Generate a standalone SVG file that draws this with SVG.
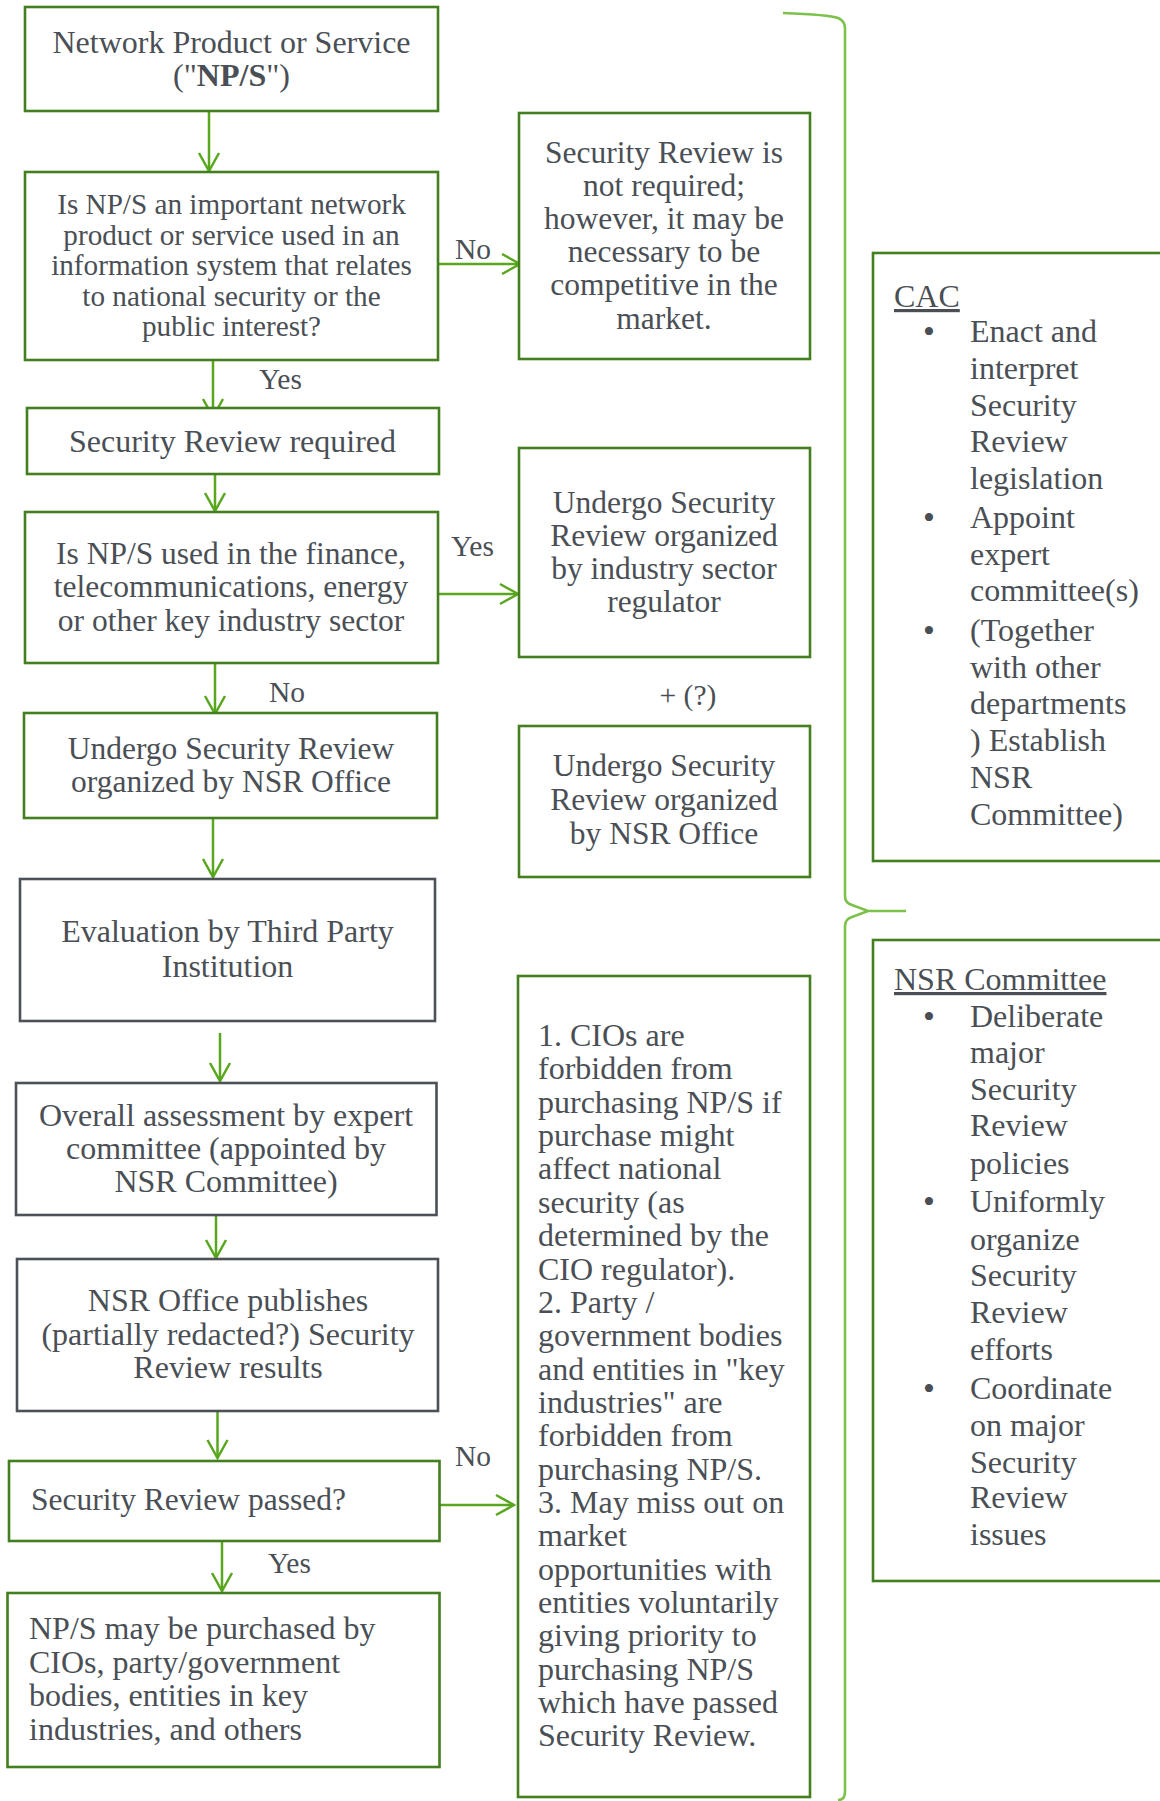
<svg xmlns="http://www.w3.org/2000/svg" width="1160" height="1801" viewBox="0 0 1160 1801">
<style>
.g{fill:#fff;stroke:#437e1f;stroke-width:2.6}
.k{fill:#fff;stroke:#4b5157;stroke-width:2.6}
.t{font-family:"Liberation Serif","Times New Roman",serif;font-size:31.5px;fill:#4a4f55}
.c{text-anchor:middle}
.s29{font-size:29.2px}
.s32{font-size:32px}
.b{font-family:"Liberation Serif","Times New Roman",serif;font-size:34px;fill:#4a4f55;text-anchor:middle}
.lb{font-family:"Liberation Serif","Times New Roman",serif;font-size:29.5px;fill:#4a4f55}
.u{text-decoration:underline}
.a{fill:none;stroke:#59a61f;stroke-width:2.5}
.br{fill:none;stroke:#7cc14a;stroke-width:2.6}
</style>
<defs>
<marker id="ah" markerUnits="userSpaceOnUse" viewBox="-20 -12 22 24" refX="0" refY="0" markerWidth="22" markerHeight="24" orient="auto">
<path d="M-18,-10 L0,0 L-18,10" fill="none" stroke="#59a61f" stroke-width="2.5"/>
</marker>
</defs>
<g id="bracket">
<path class="br" d="M783,13 C810,14 830,15 838,18 Q845,21 845,28 L845,896 Q845,903 852,905 L868,911 L906,911 M868,911 L852,917 Q845,919 845,926 L845,1792 Q845,1800 838,1800"/>
</g>
<g id="connectors">
<line class="a" x1="209" y1="111" x2="209" y2="171" marker-end="url(#ah)"/>
<line class="a" x1="438" y1="264" x2="520" y2="264" marker-end="url(#ah)"/>
<text class="lb" x="455" y="259">No</text>
<line class="a" x1="213" y1="360" x2="213" y2="417" marker-end="url(#ah)"/>
<text class="lb" x="259" y="389">Yes</text>
<line class="a" x1="215" y1="474" x2="215" y2="511" marker-end="url(#ah)"/>
<line class="a" x1="438" y1="594" x2="518" y2="594" marker-end="url(#ah)"/>
<text class="lb" x="451" y="556">Yes</text>
<line class="a" x1="215" y1="663" x2="215" y2="714" marker-end="url(#ah)"/>
<text class="lb" x="269" y="702">No</text>
<line class="a" x1="213" y1="818" x2="213" y2="877" marker-end="url(#ah)"/>
<line class="a" x1="220" y1="1033" x2="220" y2="1081" marker-end="url(#ah)"/>
<line class="a" x1="216" y1="1215" x2="216" y2="1258" marker-end="url(#ah)"/>
<line class="a" x1="217.5" y1="1411" x2="217.5" y2="1458" marker-end="url(#ah)"/>
<line class="a" x1="439.5" y1="1505" x2="514" y2="1505" marker-end="url(#ah)"/>
<text class="lb" x="455" y="1466">No</text>
<line class="a" x1="222" y1="1541" x2="222" y2="1591" marker-end="url(#ah)"/>
<text class="lb" x="268" y="1573">Yes</text>
</g>
<g id="n1">
<rect class="g" x="25" y="7" width="413" height="104"/>
<text class="t c s32" x="231.5" y="53">Network Product or Service</text>
<text class="t c s32" x="231.5" y="86">("<tspan font-weight="bold">NP/S</tspan>")</text>
</g>
<g id="n2">
<rect class="g" x="25" y="172" width="413" height="188"/>
<text class="t c s29" x="231.5" y="214">Is NP/S an important network</text>
<text class="t c s29" x="231.5" y="244.5">product or service used in an</text>
<text class="t c s29" x="231.5" y="275">information system that relates</text>
<text class="t c s29" x="231.5" y="305.5">to national security or the</text>
<text class="t c s29" x="231.5" y="336">public interest?</text>
</g>
<g id="n3">
<rect class="g" x="519" y="113" width="291" height="246"/>
<text class="t c" x="664" y="163">Security Review is</text>
<text class="t c" x="664" y="196">not required;</text>
<text class="t c" x="664" y="229">however, it may be</text>
<text class="t c" x="664" y="262">necessary to be</text>
<text class="t c" x="664" y="295">competitive in the</text>
<text class="t c" x="664" y="329">market.</text>
</g>
<g id="n4">
<rect class="g" x="27" y="408" width="412" height="66"/>
<text class="t c s32" x="232.5" y="452">Security Review required</text>
</g>
<g id="n5">
<rect class="g" x="25" y="512" width="413" height="151"/>
<text class="t c" x="231" y="563.5">Is NP/S used in the finance,</text>
<text class="t c" x="231" y="597">telecommunications, energy</text>
<text class="t c" x="231" y="631">or other key industry sector</text>
</g>
<g id="n6">
<rect class="g" x="519" y="448" width="291" height="209"/>
<text class="t c" x="664" y="513">Undergo Security</text>
<text class="t c" x="664" y="546">Review organized</text>
<text class="t c" x="664" y="579">by industry sector</text>
<text class="t c" x="664" y="612">regulator</text>
</g>
<text class="lb" x="688" y="705" text-anchor="middle">+ (?)</text>
<g id="n7">
<rect class="g" x="519" y="726" width="291" height="151"/>
<text class="t c" x="664" y="776">Undergo Security</text>
<text class="t c" x="664" y="810">Review organized</text>
<text class="t c" x="664" y="844">by NSR Office</text>
</g>
<g id="n8">
<rect class="g" x="24" y="713" width="413" height="105"/>
<text class="t c" x="231" y="759">Undergo Security Review</text>
<text class="t c" x="231" y="792">organized by NSR Office</text>
</g>
<g id="n9">
<rect class="k" x="20" y="879" width="415" height="142"/>
<text class="t c s32" x="227.5" y="942">Evaluation by Third Party</text>
<text class="t c s32" x="227.5" y="977">Institution</text>
</g>
<g id="n10">
<rect class="k" x="16" y="1083" width="420.5" height="132"/>
<text class="t c s32" x="226" y="1126">Overall assessment by expert</text>
<text class="t c s32" x="226" y="1159">committee (appointed by</text>
<text class="t c s32" x="226" y="1192">NSR Committee)</text>
</g>
<g id="n11">
<rect class="k" x="17" y="1259" width="421" height="152"/>
<text class="t c s32" x="228" y="1311">NSR Office publishes</text>
<text class="t c s32" x="228" y="1345">(partially redacted?) Security</text>
<text class="t c s32" x="228" y="1378">Review results</text>
</g>
<g id="n12">
<rect class="g" x="9" y="1461" width="430.5" height="80"/>
<text class="t" x="31" y="1510">Security Review passed?</text>
</g>
<g id="n13">
<rect class="g" x="7.5" y="1593" width="432" height="174"/>
<text class="t s32" x="29" y="1639">NP/S may be purchased by</text>
<text class="t s32" x="29" y="1673">CIOs, party/government</text>
<text class="t s32" x="29" y="1706">bodies, entities in key</text>
<text class="t s32" x="29" y="1740">industries, and others</text>
</g>
<g id="n14">
<rect class="g" x="518" y="976" width="292" height="821"/>
<text class="t s32" x="538" y="1046">1. CIOs are</text>
<text class="t s32" x="538" y="1079.3">forbidden from</text>
<text class="t s32" x="538" y="1112.7">purchasing NP/S if</text>
<text class="t s32" x="538" y="1146">purchase might</text>
<text class="t s32" x="538" y="1179.4">affect national</text>
<text class="t s32" x="538" y="1212.8">security (as</text>
<text class="t s32" x="538" y="1246.1">determined by the</text>
<text class="t s32" x="538" y="1279.5">CIO regulator).</text>
<text class="t s32" x="538" y="1312.8">2. Party /</text>
<text class="t s32" x="538" y="1346.2">government bodies</text>
<text class="t s32" x="538" y="1379.5">and entities in "key</text>
<text class="t s32" x="538" y="1412.9">industries" are</text>
<text class="t s32" x="538" y="1446.2">forbidden from</text>
<text class="t s32" x="538" y="1479.6">purchasing NP/S.</text>
<text class="t s32" x="538" y="1512.9">3. May miss out on</text>
<text class="t s32" x="538" y="1546.3">market</text>
<text class="t s32" x="538" y="1579.6">opportunities with</text>
<text class="t s32" x="538" y="1613">entities voluntarily</text>
<text class="t s32" x="538" y="1646.3">giving priority to</text>
<text class="t s32" x="538" y="1679.7">purchasing NP/S</text>
<text class="t s32" x="538" y="1713">which have passed</text>
<text class="t s32" x="538" y="1746.4">Security Review.</text>
</g>
<g id="cac">
<rect class="g" x="873" y="253" width="300" height="608"/>
<text class="t s32 u" x="894" y="307">CAC</text>
<text class="b" x="929" y="343">•</text>
<text class="t s32" x="970" y="342">Enact and</text>
<text class="t s32" x="970" y="379">interpret</text>
<text class="t s32" x="970" y="416">Security</text>
<text class="t s32" x="970" y="452">Review</text>
<text class="t s32" x="970" y="489">legislation</text>
<text class="b" x="929" y="529">•</text>
<text class="t s32" x="970" y="528">Appoint</text>
<text class="t s32" x="970" y="565">expert</text>
<text class="t s32" x="970" y="601">committee(s)</text>
<text class="b" x="929" y="642">•</text>
<text class="t s32" x="970" y="641">(Together</text>
<text class="t s32" x="970" y="678">with other</text>
<text class="t s32" x="970" y="714">departments</text>
<text class="t s32" x="970" y="751">) Establish</text>
<text class="t s32" x="970" y="788">NSR</text>
<text class="t s32" x="970" y="825">Committee)</text>
</g>
<g id="nsrc">
<rect class="g" x="873" y="940" width="300" height="641"/>
<text class="t s32 u" x="894" y="990">NSR Committee</text>
<text class="b" x="929" y="1028">•</text>
<text class="t s32" x="970" y="1027">Deliberate</text>
<text class="t s32" x="970" y="1063">major</text>
<text class="t s32" x="970" y="1100">Security</text>
<text class="t s32" x="970" y="1136">Review</text>
<text class="t s32" x="970" y="1174">policies</text>
<text class="b" x="929" y="1213">•</text>
<text class="t s32" x="970" y="1212">Uniformly</text>
<text class="t s32" x="970" y="1250">organize</text>
<text class="t s32" x="970" y="1286">Security</text>
<text class="t s32" x="970" y="1323">Review</text>
<text class="t s32" x="970" y="1360">efforts</text>
<text class="b" x="929" y="1400">•</text>
<text class="t s32" x="970" y="1399">Coordinate</text>
<text class="t s32" x="970" y="1436">on major</text>
<text class="t s32" x="970" y="1473">Security</text>
<text class="t s32" x="970" y="1508">Review</text>
<text class="t s32" x="970" y="1545">issues</text>
</g>
</svg>
